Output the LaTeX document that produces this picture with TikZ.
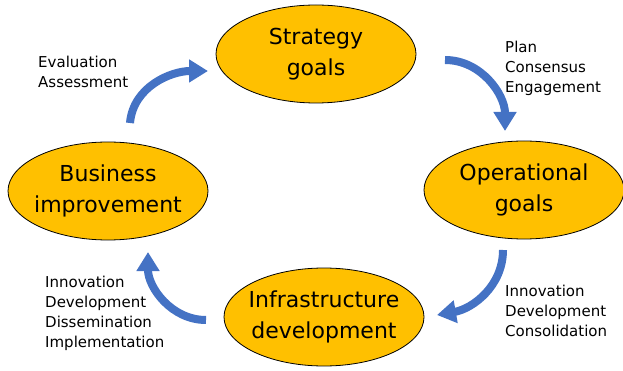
\documentclass[tikz,border=0pt]{standalone}
\usepackage{fontspec}
\setmainfont{DejaVu Sans}
\usetikzlibrary{shapes.geometric,arrows.meta}
\definecolor{goalfill}{HTML}{FFC000}
\definecolor{flowblue}{HTML}{4472C4}
\tikzset{
  goal/.style={ellipse,draw=black,line width=0.8pt,fill=goalfill,minimum width=200pt,minimum height=98pt,inner xsep=-5pt,inner ysep=0pt,align=center,font=\fontsize{22}{31}\selectfont},
  note/.style={anchor=west,align=left,inner sep=0pt,font=\fontsize{15}{20}\selectfont},
  flow/.style={flowblue,line width=8pt,-{Triangle[length=19pt,width=22pt]}}
}
\begin{document}
\begin{tikzpicture}[x=1pt,y=-1pt]
        \useasboundingbox (0,0) rectangle (623,371);
        \node at (316,54) [goal] (strat) {Strategy\\goals};
        \node at (524,190) [goal] (oper) {Operational\\goals};
        \node at (324,317) [goal] (infra) {Infrastructure\\development};
        \node at (108,191) [goal] (busi) {Business\\improvement};

        \node at (38,72) [note] (evalnote) {Evaluation\\Assessment};
        \node at (505,68) [note] (plannote) {Plan\\Consensus\\Engagement};
        \node at (505,311) [note] (consnote) {Innovation\\Development\\Consolidation};
        \node at (45,313) [note] (impnote) {Innovation\\Development\\Dissemination\\Implementation};

        % arrow ends between the goals
        \coordinate (busiout) at (130,123);
        \coordinate (stratin) at (208,71);
        \coordinate (stratout) at (445,60);
        \coordinate (operin) at (505,131);
        \coordinate (operout) at (503,250);
        \coordinate (infrain) at (437,315);
        \coordinate (infraout) at (206,320);
        \coordinate (busiin) at (148,252);

        \draw[flow] (busiout) to[out=85,in=180] (stratin);
        \draw[flow] (stratout) to[out=0,in=90] (operin);
        \draw[flow] (operout) to[out=-90,in=10] (infrain);
        \draw[flow] (infraout) to[out=180,in=-90] (busiin);
    \end{tikzpicture}
\end{document}
